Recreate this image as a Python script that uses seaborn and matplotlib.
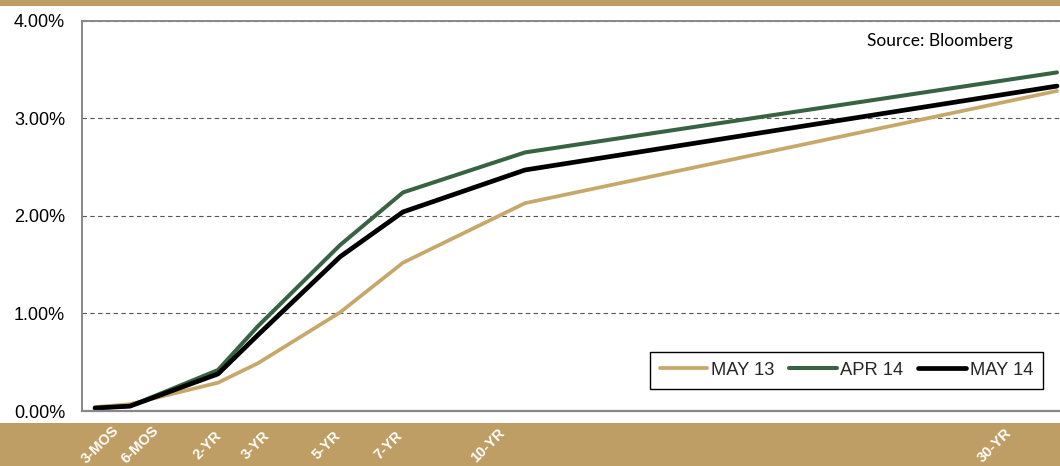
import numpy as np
import pandas as pd
import matplotlib
matplotlib.use("Agg")
import matplotlib.pyplot as plt
import matplotlib.transforms as mtransforms
from matplotlib.patches import Rectangle
import seaborn as sns

# ---------------- data ----------------
maturity_labels = ["3-MOS", "6-MOS", "2-YR", "3-YR", "5-YR", "7-YR", "10-YR", "30-YR"]
maturity_years = [0.25, 0.5, 2, 3, 5, 7, 10, 30]
may13 = [0.04, 0.07, 0.29, 0.49, 1.01, 1.52, 2.13, 3.28]
apr14 = [0.03, 0.05, 0.42, 0.87, 1.70, 2.24, 2.65, 3.47]
may14 = [0.03, 0.05, 0.38, 0.78, 1.58, 2.04, 2.47, 3.33]
series_names = ["MAY 13", "APR 14", "MAY 14"]
y_ticks = [0, 1, 2, 3, 4]
source_text = "Source: Bloomberg"

df = pd.DataFrame({
    "maturity": maturity_years * 3,
    "yield": may13 + apr14 + may14,
    "series": [s for s in series_names for _ in maturity_years],
})

# ---------------- style ----------------
sns.set_theme(style="white")
plt.rcParams["font.family"] = ["Liberation Sans", "DejaVu Sans"]

W, H = 1060, 466
fig = plt.figure(figsize=(W / 100, H / 100), dpi=100)
fig.patch.set_facecolor("white")

band = "#BE9E64"
fig.patches.append(Rectangle((0, 1 - 6 / H), 1, 6 / H, transform=fig.transFigure,
                             facecolor=band, edgecolor="none", zorder=-5))
fig.patches.append(Rectangle((0, 0), 1, 43 / H, transform=fig.transFigure,
                             facecolor=band, edgecolor="none", zorder=-5))

left_px, right_px, top_px, bottom_px = 81.7, 1060, 20.7, 411
ax = fig.add_axes([left_px / W, 1 - bottom_px / H, (right_px - left_px) / W,
                   (bottom_px - top_px) / H])
ax.set_facecolor("white")

colors = {"MAY 13": "#C6A86B", "APR 14": "#386343", "MAY 14": "#000000"}
widths = {"MAY 13": 2.7, "APR 14": 2.9, "MAY 14": 3.4}
for name in series_names:
    sns.lineplot(data=df[df["series"] == name], x="maturity", y="yield", ax=ax,
                 color=colors[name], linewidth=widths[name], label=name,
                 solid_capstyle="round", solid_joinstyle="round", legend=False)

# custom (piecewise) maturity axis as in the original layout
_knot_years = np.array([0, 0.25, 0.5, 2, 3, 5, 7, 10, 30, 32])
_knot_px = np.array([60, 95, 130, 218, 258, 340, 403, 525, 1057, 1110.2])


def fwd(x):
    return np.interp(x, _knot_years, _knot_px)


def inv(u):
    return np.interp(u, _knot_px, _knot_years)


ax.set_xscale("function", functions=(fwd, inv))
ax.set_xlim(inv(left_px), inv(right_px))
ax.set_ylim(0, 4)

ax.set_yticks(y_ticks)
ax.set_yticklabels([f"{v:.2f}%" for v in y_ticks])
ax.tick_params(axis="y", length=0, pad=12, labelsize=13, colors="black")
ax.set_xticks([])
ax.set_xlabel("")
ax.set_ylabel("")

ax.yaxis.grid(True, color="#555555", linestyle=(0, (4, 3)), linewidth=0.8)
ax.xaxis.grid(False)
ax.set_axisbelow(True)

for side in ["left", "top", "bottom"]:
    ax.spines[side].set_visible(True)
    ax.spines[side].set_color("#888888")
    ax.spines[side].set_linewidth(1.4)
ax.spines["bottom"].set_linewidth(1.6)
ax.spines["right"].set_visible(False)

# maturity labels in the lower band
label_dx = [5, 10, -11, -2, -13, -15, -37, -62]
for yr, lab, dx in zip(maturity_years, maturity_labels, label_dx):
    tr = ax.get_xaxis_transform() + mtransforms.ScaledTranslation(dx / 100, -34 / 100,
                                                                  fig.dpi_scale_trans)
    ax.text(yr, 0, lab, transform=tr, rotation=45, ha="center", va="center",
            rotation_mode="anchor", color="white", fontsize=10.5, fontweight="bold",
            clip_on=False, zorder=10)

leg = ax.legend(loc="lower right", bbox_to_anchor=((1043 - left_px) / (right_px - left_px),
                                                    (bottom_px - 389) / (bottom_px - top_px)),
                borderaxespad=0, ncol=3, fontsize=13.2, frameon=True, fancybox=False,
                framealpha=1, edgecolor="black", handlelength=2.6, handletextpad=0.2,
                columnspacing=0.8, borderpad=0.55)
leg.get_frame().set_linewidth(1.0)

ax.text((1013 - left_px) / (right_px - left_px), (bottom_px - 41) / (bottom_px - top_px),
        source_text, transform=ax.transAxes, ha="right", va="center", fontsize=12.5,
        family=["Lato", "DejaVu Sans"], color="black")

fig.savefig("out.png", dpi=100, facecolor=fig.get_facecolor())
